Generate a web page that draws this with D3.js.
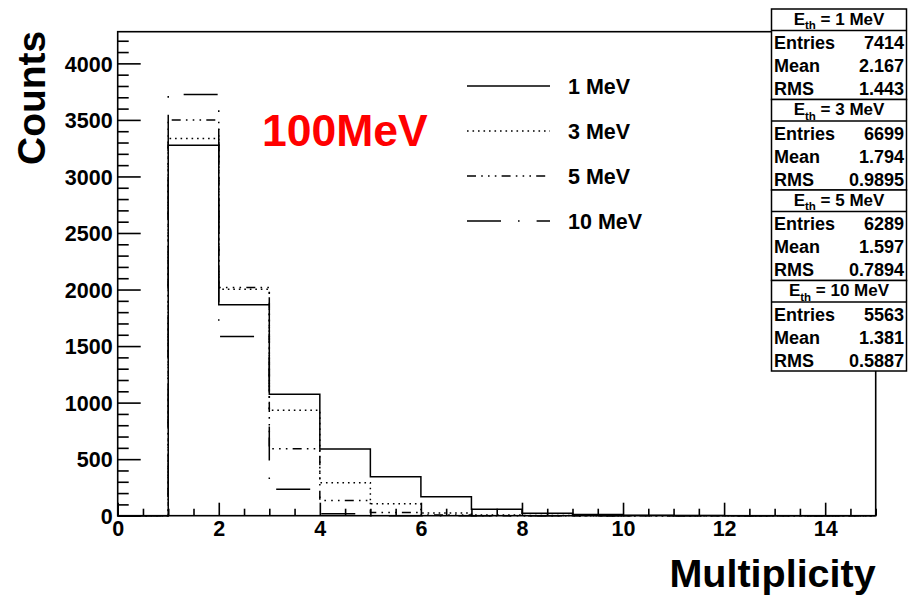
<!DOCTYPE html>
<html>
<head>
<meta charset="utf-8">
<script src="https://cdn.jsdelivr.net/npm/d3@7"></script>
<style>
  html, body { margin: 0; padding: 0; background: #fff; }
  svg { display: block; }
  text { font-family: "Liberation Sans", Arial, Helvetica, sans-serif; font-weight: bold; fill: #000; }
</style>
</head>
<body>
<svg id="chart" width="908" height="596"></svg>
<script>
// Multiplicity histograms, unit-width bins from 0 to 15
const binEdges = d3.range(0, 16);
const counts1MeV  = [0, 3275, 1865, 1075, 590, 345, 168, 57, 22, 10, 4, 2, 0, 0, 0];
const counts3MeV  = [0, 3335, 2002, 932, 292, 106, 24, 6, 1, 0, 0, 0, 0, 0, 0];
const counts5MeV  = [0, 3500, 2018, 592, 135, 28, 6, 0, 0, 0, 0, 0, 0, 0, 0];
const counts10MeV = [0, 3725, 1585, 235, 18, 0, 0, 0, 0, 0, 0, 0, 0, 0, 0];

const seriesNames = ["1 MeV", "3 MeV", "5 MeV", "10 MeV"];
const thresholds = ["1", "3", "5", "10"];
const entries = ["7414", "6699", "6289", "5563"];
const means = ["2.167", "1.794", "1.597", "1.381"];
const rmsValues = ["1.443", "0.9895", "0.7894", "0.5887"];

const xTickValues = [0, 2, 4, 6, 8, 10, 12, 14];
const yTickValues = [0, 500, 1000, 1500, 2000, 2500, 3000, 3500, 4000];
const xDomain = [0, 15];
const yDomain = [0, 4280];

const allCounts = [counts1MeV, counts3MeV, counts5MeV, counts10MeV];
const dashes = [null, "1.6,3.9", "9,5.2,1.6,5.2,1.6,5.2,1.6,5.2", "34,17,1.6,17"];

const svg = d3.select("#chart");
const frame = { left: 117.7, right: 875.7, top: 31.7, bottom: 515.7 };

const x = d3.scaleLinear().domain(xDomain).range([frame.left, frame.right]);
const y = d3.scaleLinear().domain(yDomain).range([frame.bottom, frame.top]);

// Histogram outlines as step paths
const stepLine = d3.line().x(d => x(d[0])).y(d => y(d[1]));
function stepPoints(counts) {
  const pts = [[binEdges[0], 0]];
  counts.forEach((c, i) => {
    pts.push([binEdges[i], c]);
    pts.push([binEdges[i + 1], c]);
  });
  pts.push([binEdges[binEdges.length - 1], 0]);
  return pts;
}

const histG = svg.append("g");
allCounts.forEach((counts, i) => {
  histG.append("path")
    .attr("d", stepLine(stepPoints(counts)))
    .attr("fill", "none")
    .attr("stroke", "#000")
    .attr("stroke-width", 1.5)
    .attr("stroke-dasharray", dashes[i]);
});

// Frame
svg.append("rect")
  .attr("x", frame.left).attr("y", frame.top)
  .attr("width", frame.right - frame.left).attr("height", frame.bottom - frame.top)
  .attr("fill", "none").attr("stroke", "#000").attr("stroke-width", 1.6);

// Y axis: major and minor ticks pointing into the frame
const yMajor = svg.append("g").attr("transform", `translate(${frame.left},0)`)
  .call(d3.axisLeft(y).tickValues(yTickValues).tickSize(-23).tickPadding(5).tickFormat(d3.format("d")));
const yMinorVals = d3.range(0, 4280, 100).filter(v => v % 500 !== 0);
const yMinor = svg.append("g").attr("transform", `translate(${frame.left},0)`)
  .call(d3.axisLeft(y).tickValues(yMinorVals).tickSize(-11).tickFormat(""));

// X axis
const xMajor = svg.append("g").attr("transform", `translate(0,${frame.bottom})`)
  .call(d3.axisBottom(x).tickValues(xTickValues).tickSize(-13).tickPadding(5).tickFormat(d3.format("d")));
const xMinorVals = d3.range(0, 15.01, 0.5).filter(v => v % 2 !== 0);
const xMinor = svg.append("g").attr("transform", `translate(0,${frame.bottom})`)
  .call(d3.axisBottom(x).tickValues(xMinorVals).tickSize(-7).tickFormat(""));

[yMajor, yMinor, xMajor, xMinor].forEach(g => {
  g.select(".domain").remove();
  g.selectAll("line").attr("stroke", "#000").attr("stroke-width", 1.6);
  g.selectAll("text").attr("font-size", 21.5).attr("font-family", null).attr("fill", "#000");
});
yMajor.selectAll("text").attr("dy", "0.36em");
xMajor.selectAll("text").attr("dy", "0.72em");

// Axis titles
svg.append("text")
  .attr("transform", `translate(45,${frame.top - 1}) rotate(-90)`)
  .attr("text-anchor", "end")
  .attr("font-size", 39)
  .text("Counts");
svg.append("text")
  .attr("x", frame.right).attr("y", 587)
  .attr("text-anchor", "end")
  .attr("font-size", 39.5)
  .text("Multiplicity");

// Energy label
svg.append("text")
  .attr("x", 262).attr("y", 146)
  .attr("font-family", "Lato, 'Open Sans', sans-serif")
  .attr("font-size", 44.5)
  .attr("font-weight", "bold")
  .style("fill", "#ff0000")
  .text("100MeV");

// Legend
const legendY = [86, 131, 176, 221];
const legend = svg.append("g");
seriesNames.forEach((name, i) => {
  legend.append("line")
    .attr("x1", 467).attr("x2", 550)
    .attr("y1", legendY[i]).attr("y2", legendY[i])
    .attr("stroke", "#000").attr("stroke-width", 1.5)
    .attr("stroke-dasharray", dashes[i]);
  legend.append("text")
    .attr("x", 568).attr("y", legendY[i] + 8)
    .attr("font-size", 21.5)
    .text(name);
});

// Statistics boxes
const box = { left: 771.5, right: 906.5, top: 9, header: 21.5, row: 23 };
const boxH = box.header + 3 * box.row;
const stats = svg.append("g");
thresholds.forEach((th, i) => {
  const top = box.top + i * boxH;
  stats.append("rect")
    .attr("x", box.left).attr("y", top)
    .attr("width", box.right - box.left).attr("height", boxH)
    .attr("fill", "#fff").attr("stroke", "#000").attr("stroke-width", 1.5);
  stats.append("line")
    .attr("x1", box.left).attr("x2", box.right)
    .attr("y1", top + box.header).attr("y2", top + box.header)
    .attr("stroke", "#000").attr("stroke-width", 1.5);
  const head = stats.append("text")
    .attr("x", (box.left + box.right) / 2).attr("y", top + 15.5)
    .attr("text-anchor", "middle").attr("font-size", 17);
  head.append("tspan").text("E");
  head.append("tspan").attr("font-size", 11.5).attr("dy", 4.5).text("th");
  head.append("tspan").attr("dy", -4.5).text(` = ${th} MeV`);
  const rows = [["Entries", entries[i]], ["Mean", means[i]], ["RMS", rmsValues[i]]];
  rows.forEach((r, j) => {
    const ty = top + box.header + j * box.row + 18.5;
    stats.append("text").attr("x", box.left + 2.5).attr("y", ty)
      .attr("font-size", 18).text(r[0]);
    stats.append("text").attr("x", box.right - 2.5).attr("y", ty)
      .attr("text-anchor", "end").attr("font-size", 18).text(r[1]);
  });
});
</script>
</body>
</html>
